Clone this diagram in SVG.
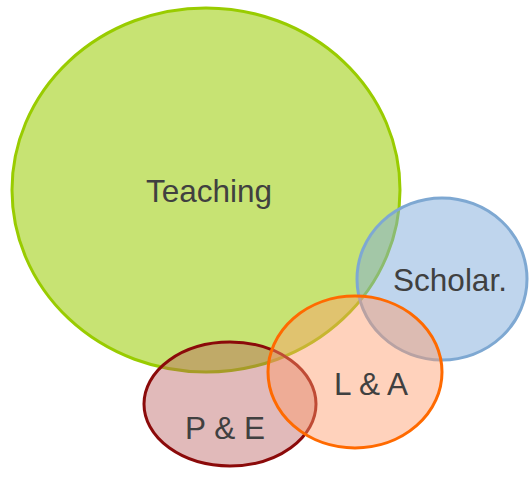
<svg xmlns="http://www.w3.org/2000/svg" width="529" height="498" viewBox="0 0 529 498">
<style>
text{font-family:"Liberation Sans",Arial,sans-serif;font-size:31.5px;fill:#404040;text-anchor:middle}
.e{stroke-width:3}
</style>
<rect width="529" height="498" fill="#fff"/>
<g id="teaching">
<ellipse class="e" cx="206" cy="190" rx="194" ry="182" fill="#99cc00" fill-opacity="0.55" stroke="#99cc00"/>
<text x="209" y="202">Teaching</text>
</g>
<g id="scholar">
<ellipse class="e" cx="442" cy="279" rx="85" ry="81" fill="#80acdc" fill-opacity="0.5" stroke="#7ea8d2" stroke-width="2.5"/>
<text x="450" y="291">Scholar.</text>
</g>
<g id="pe">
<ellipse class="e" cx="230" cy="404" rx="86" ry="62" fill="#b85a5a" fill-opacity="0.42" stroke="#8b0a0a"/>
<text x="225" y="439">P &amp; E</text>
</g>
<g id="la">
<ellipse class="e" cx="355" cy="372" rx="87" ry="76" fill="#ff9c6a" fill-opacity="0.45" stroke="#ff6a00"/>
<text x="371" y="395">L &amp; A</text>
</g>
<g id="connectors"/>
</svg>
